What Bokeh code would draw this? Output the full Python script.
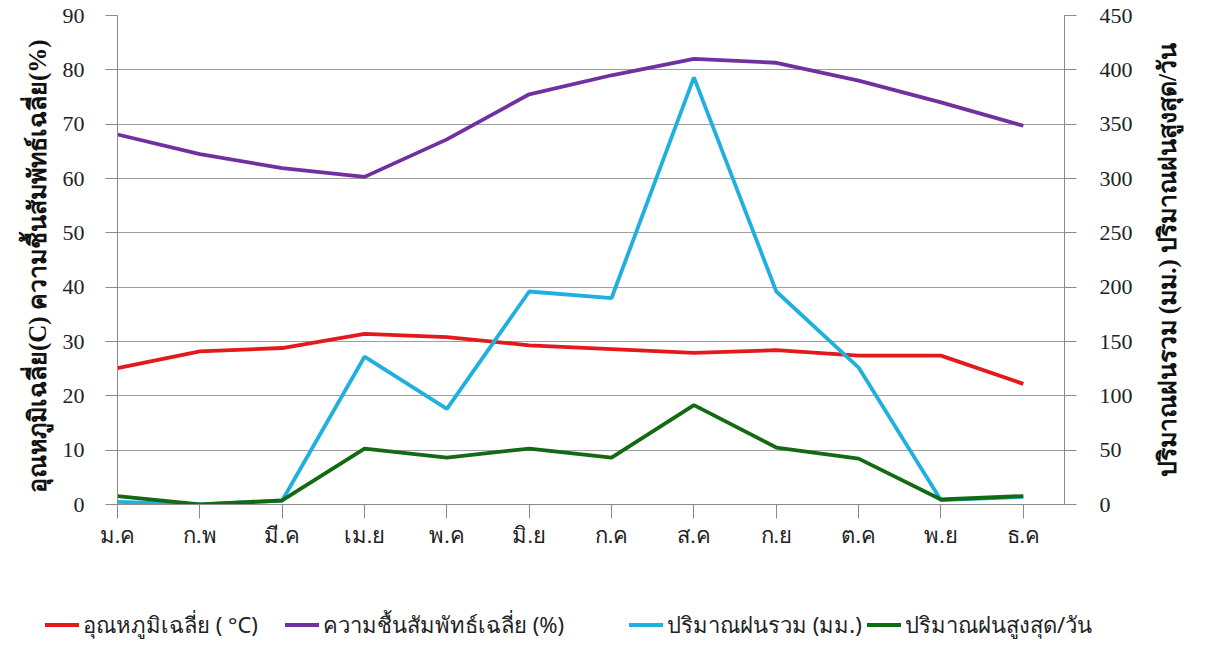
import math
from bokeh.plotting import figure
from bokeh.layouts import column, row
from bokeh.models import Range1d, LinearAxis, FixedTicker, Label, Div
from bokeh.embed import file_html
from bokeh.resources import INLINE

months = ["ม.ค", "ก.พ", "มี.ค", "เม.ย", "พ.ค", "มิ.ย", "ก.ค", "ส.ค", "ก.ย", "ต.ค", "พ.ย", "ธ.ค"]
temp_avg = [25.1, 28.2, 28.8, 31.4, 30.8, 29.3, 28.6, 27.9, 28.4, 27.4, 27.4, 22.2]
humid_avg = [68.1, 64.5, 61.9, 60.3, 67.2, 75.5, 79.0, 82.0, 81.3, 78.0, 74.0, 69.7]
rain_total = [2.5, 0, 3.7, 136, 88, 196, 190, 393, 196, 126, 4, 7]
rain_max = [7.8, 0, 3.7, 51.5, 43.2, 51.5, 43.2, 91.5, 52.4, 42.2, 4.6, 7.8]

left_ticks = [0, 10, 20, 30, 40, 50, 60, 70, 80, 90]
right_ticks = [0, 50, 100, 150, 200, 250, 300, 350, 400, 450]

labels = ["อุณหภูมิเฉลี่ย ( °C)", "ความชื้นสัมพัทธ์เฉลี่ย (%)", "ปริมาณฝนรวม (มม.)", "ปริมาณฝนสูงสุด/วัน"]
colors = ["#e3191c", "#7030a0", "#1fb0e0", "#126b12"]
left_title = "อุณหภูมิเฉลี่ย(C)   ความชื้นสัมพัทธ์เฉลี่ย(%)"
right_title = "ปริมาณฝนรวม (มม.)   ปริมาณฝนสูงสุด/วัน"

x = list(range(len(months)))

GRID = "#a0a0a0"
AXIS = "#8a8a8a"
SERIF = "Liberation Serif"
LW = 3.8
H = 602
TOP, BOTTOM = 15, 98

p = figure(width=1150, height=H, x_range=Range1d(0, 11.5), y_range=Range1d(0, 90),
           output_backend="svg", toolbar_location=None,
           min_border_left=117, min_border_right=86, min_border_top=TOP, min_border_bottom=BOTTOM)
p.outline_line_color = None
p.extra_y_ranges = {"rain": Range1d(0, 450)}

p.line(x, temp_avg, line_color=colors[0], line_width=LW)
p.line(x, humid_avg, line_color=colors[1], line_width=LW)
p.line(x, rain_total, line_color=colors[2], line_width=LW, y_range_name="rain")
p.line(x, rain_max, line_color=colors[3], line_width=LW, y_range_name="rain")

p.xgrid.visible = False
p.ygrid.grid_line_color = GRID
p.ygrid.ticker = FixedTicker(ticks=left_ticks)

raxis = LinearAxis(y_range_name="rain")
p.add_layout(raxis, "right")

p.yaxis[0].ticker = FixedTicker(ticks=left_ticks)
raxis.ticker = FixedTicker(ticks=right_ticks)
p.xaxis.ticker = FixedTicker(ticks=x)
p.xaxis.major_label_overrides = {i: m for i, m in zip(x, months)}

for ax in [p.xaxis[0], p.yaxis[0], raxis]:
    ax.axis_line_color = AXIS
    ax.major_tick_line_color = AXIS
    ax.minor_tick_line_color = None
    ax.major_tick_in = 0
    ax.major_tick_out = 12
    ax.major_label_text_font = SERIF
    ax.major_label_text_font_size = "22px"
    ax.major_label_text_color = "#222222"
    ax.axis_label_text_font = SERIF
    ax.axis_label_text_font_size = "25px"
    ax.axis_label_text_font_style = "bold"
    ax.axis_label_text_color = "#111111"

p.xaxis.major_tick_out = 14
p.xaxis.major_label_standoff = 4
p.yaxis[0].major_label_standoff = 21
raxis.major_label_standoff = 23
p.yaxis[0].axis_label = left_title
p.yaxis[0].axis_label_standoff = 9

# right-hand axis title, reading bottom to top, in a narrow strip
rl = figure(width=40, height=H, output_backend="svg", toolbar_location=None,
            x_axis_location=None, y_axis_location=None,
            min_border_left=0, min_border_right=0, min_border_top=TOP, min_border_bottom=BOTTOM,
            x_range=Range1d(0, 1), y_range=Range1d(0, 1))
rl.outline_line_color = None
rl.xgrid.visible = False
rl.ygrid.visible = False
rl.add_layout(Label(x=17, y=(H - TOP - BOTTOM) / 2 + 6, x_units="screen", y_units="screen",
                    text=right_title, angle=math.pi / 2, text_align="center", text_baseline="middle",
                    text_font=SERIF, text_font_size="25px", text_font_style="bold",
                    text_color="#111111"))

# legend strip below the chart
item_widths = [240, 344, 238, 300]
parts = []
for lab, col, w in zip(labels, colors, item_widths):
    parts.append(
        f'<span style="display:inline-flex;align-items:center;width:{w}px;flex:none">'
        f'<span style="display:inline-block;width:34px;height:4px;background:{col};margin-right:4px"></span>'
        f'<span>{lab}</span></span>')
legend_html = ('<div style="display:flex;align-items:center;height:36px;padding-left:40px;'
               'font-family:\'Noto Sans\';font-size:22px;color:#222222;white-space:nowrap">'
               + "".join(parts) + '</div>')
legend = Div(text=legend_html, width=1190, height=36)

open("out.html", "w").write(file_html(column(row(p, rl), legend), INLINE))
